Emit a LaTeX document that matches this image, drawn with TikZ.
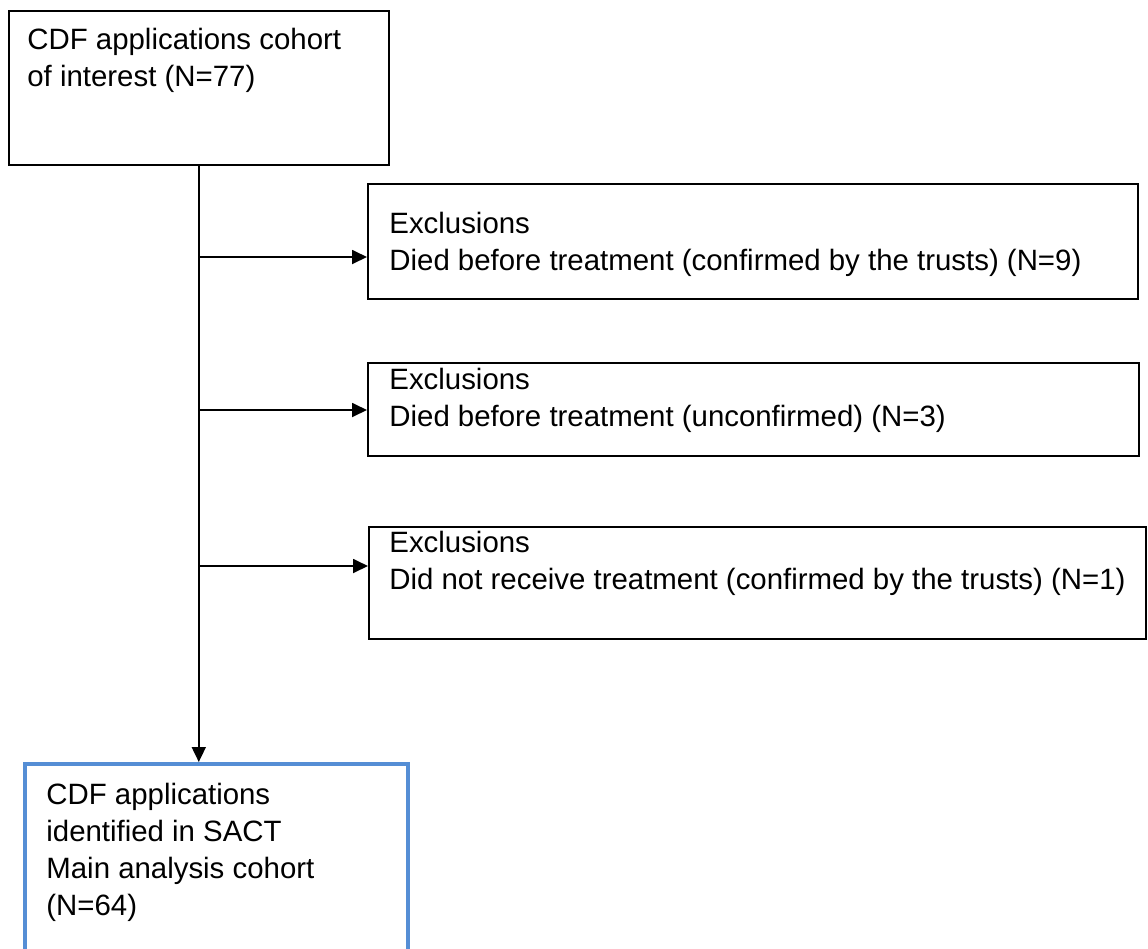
\documentclass[tikz,border=0pt]{standalone}
\usepackage{fontspec}
\setmainfont{Liberation Sans}
\usetikzlibrary{arrows.meta,calc}
\usepackage{xcolor}
\definecolor{mainblue}{RGB}{85,142,213}

\begin{document}
\begin{tikzpicture}[x=0.5pt,y=-0.5pt,
    frame/.style={draw, line width=0.8pt, anchor=north west, inner sep=0pt},
    words/.style={anchor=north west, inner sep=0pt, align=left,
      font=\fontsize{14.7pt}{18.5pt}\selectfont},
    link/.style={line width=0.9pt, -{Triangle[length=7.5pt,width=7pt]}}]
        \useasboundingbox (0,0) rectangle (1148,949);
        \clip (0,0) rectangle (1148,949);

        % boxes
        \node[frame, minimum width=190pt, minimum height=77pt] (cohort) at (8,10) {};
        \node[frame, minimum width=385pt, minimum height=57.5pt] (died) at (367,183) {};
        \node[frame, minimum width=385.5pt, minimum height=46.5pt] (unconf) at (367,362) {};
        \node[frame, minimum width=388.5pt, minimum height=56pt] (noreceive) at (368,526) {};
        \node[frame, draw=mainblue, line width=2pt, minimum width=191.5pt, minimum height=110pt] (main) at (23,762) {};

        % texts
        \node[words] (cohorttext) at (27,28) {CDF applications cohort\\of interest (N=77)};
        \node[words] (diedtext) at (389,212) {Exclusions\\Died before treatment (confirmed by the trusts) (N=9)};
        \node[words] (unconftext) at (389,368) {Exclusions\\Died before treatment (unconfirmed) (N=3)};
        \node[words] (noreceivetext) at (389,531) {Exclusions\\Did not receive treatment (confirmed by the trusts) (N=1)};
        \node[words] (maintext) at (46,783) {CDF applications\\identified in SACT\\Main analysis cohort\\(N=64)};

        % branch points on the trunk
        \coordinate (b1) at (200,257);
        \coordinate (b2) at (200,410);
        \coordinate (b3) at (200,566);

        \draw[link] (cohort.south) -- (cohort.south |- main.north);
        \draw[link] (b1) -- (b1 -| died.west);
        \draw[link] (b2) -- (b2 -| unconf.west);
        \draw[link] (b3) -- (b3 -| noreceive.west);

\end{tikzpicture}
\end{document}
